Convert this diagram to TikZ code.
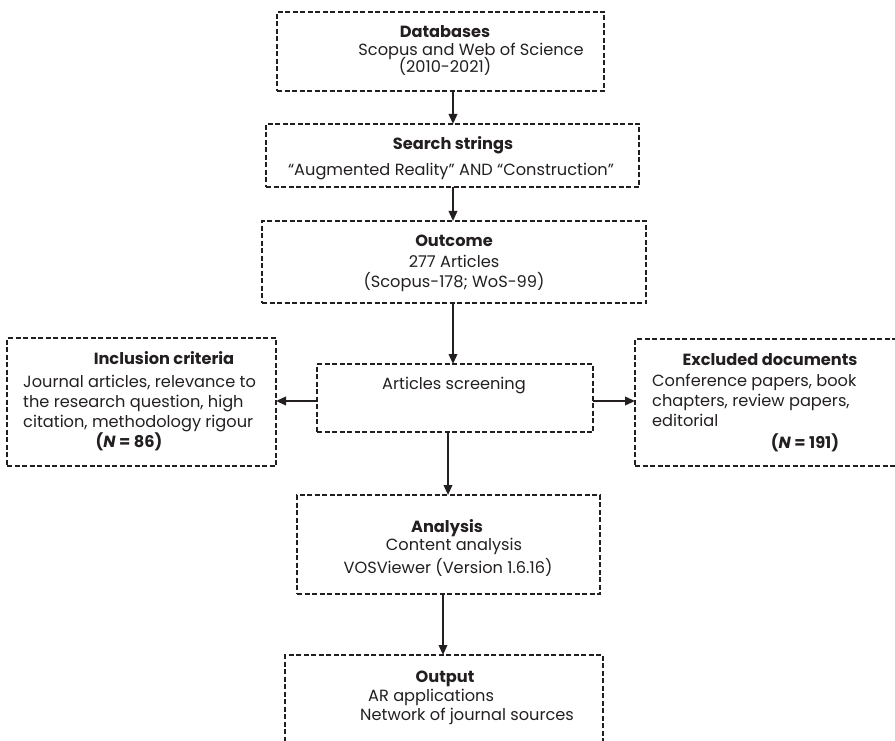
\documentclass[tikz,border=0pt]{standalone}
\usepackage{fontspec}
\setmainfont{Poppins}
\usetikzlibrary{arrows.meta}
\definecolor{ink}{HTML}{231F20}
\newcommand{\fs}{\fontsize{16.2}{20}\selectfont}
\begin{document}
\begin{tikzpicture}[x=1pt,y=-1pt,
  box/.style={draw=ink, line width=1.3pt, dash pattern=on 5pt off 2.5pt, rectangle, inner sep=0pt, outer sep=0pt},
  txt/.style={font=\fs, text=ink, inner sep=0pt, anchor=base},
  txl/.style={txt, anchor=base west},
  hd/.style={txt, font=\fs\bfseries},
  arr/.style={draw=ink, line width=2pt, -{Triangle[length=10pt,width=8.5pt]}}]
\useasboundingbox (0,0) rectangle (895,741);
\clip (0,0) rectangle (895,741);
% boxes
\node[box, minimum width=327pt, minimum height=79pt] (db) at (440.5,51.5) {};
\node[box, minimum width=373pt, minimum height=63pt] (ss) at (452.5,155.5) {};
\node[box, minimum width=384pt, minimum height=82pt] (oc) at (454,262) {};
\node[box, minimum width=276pt, minimum height=68pt] (scr) at (455,398) {};
\node[box, minimum width=269pt, minimum height=128pt] (inc) at (141.5,402) {};
\node[box, minimum width=270pt, minimum height=127pt] (exc) at (770,402.5) {};
\node[box, minimum width=303pt, minimum height=99pt] (an) at (448.5,544.5) {};
\node[box, minimum width=318pt, minimum height=115pt] (out) at (444,712.5) {};
% texts
\node[hd] (t1) at (445,38) {Databases};
\node[txt] (t2) at (471,56) {Scopus and Web of Science};
\node[txt] (t3) at (445,73) {(2010-2021)};
\node[hd] (t4) at (453,150) {Search strings};
\node[txt] (t5) at (451,176) {“Augmented Reality” AND “Construction”};
\node[hd] (t6) at (454,246) {Outcome};
\node[txt] (t7) at (454,267) {277 Articles};
\node[txt] (t8) at (454,287) {(Scopus-178; WoS-99)};
\node[txt] (t9) at (454,389) {Articles screening};
\node[hd] (t10) at (164,364) {Inclusion criteria};
\node[txl] (t11) at (23,387) {Journal articles, relevance to};
\node[txl] (t12) at (23,407) {the research question, high};
\node[txl] (t13) at (23,427) {citation, methodology rigour};
\node[hd] (t14) at (129,447) {(\textit{N} = 86)};
\node[hd] (t15) at (770,365) {Excluded documents};
\node[txl] (t16) at (652,386) {Conference papers, book};
\node[txl] (t17) at (652,406) {chapters, review papers,};
\node[txl] (t18) at (652,426) {editorial};
\node[hd] (t19) at (805,448) {(\textit{N} = 191)};
\node[hd] (t20) at (447,532) {Analysis};
\node[txt] (t21) at (454,550) {Content analysis};
\node[txt] (t22) at (448,573) {VOSViewer (Version 1.6.16)};
\node[hd] (t23) at (445,682) {Output};
\node[txl] (t24) at (368,701) {AR applications};
\node[txl] (t25) at (360,720) {Network of journal sources};
% arrows
\coordinate (c1) at (453,0);
\coordinate (c2) at (448,0);
\coordinate (c3) at (443,0);
\coordinate (c4) at (0,401);
\draw[arr] (c1 |- db.south) -- (c1 |- ss.north);
\draw[arr] (c1 |- ss.south) -- (c1 |- oc.north);
\draw[arr] (c1 |- oc.south) -- (c1 |- scr.north);
\draw[arr] (c2 |- scr.south) -- (c2 |- an.north);
\draw[arr] (c3 |- an.south) -- (c3 |- out.north);
\draw[arr] (scr.west |- c4) -- (inc.east |- c4);
\draw[arr] (scr.east |- c4) -- (exc.west |- c4);
\end{tikzpicture}
\end{document}
